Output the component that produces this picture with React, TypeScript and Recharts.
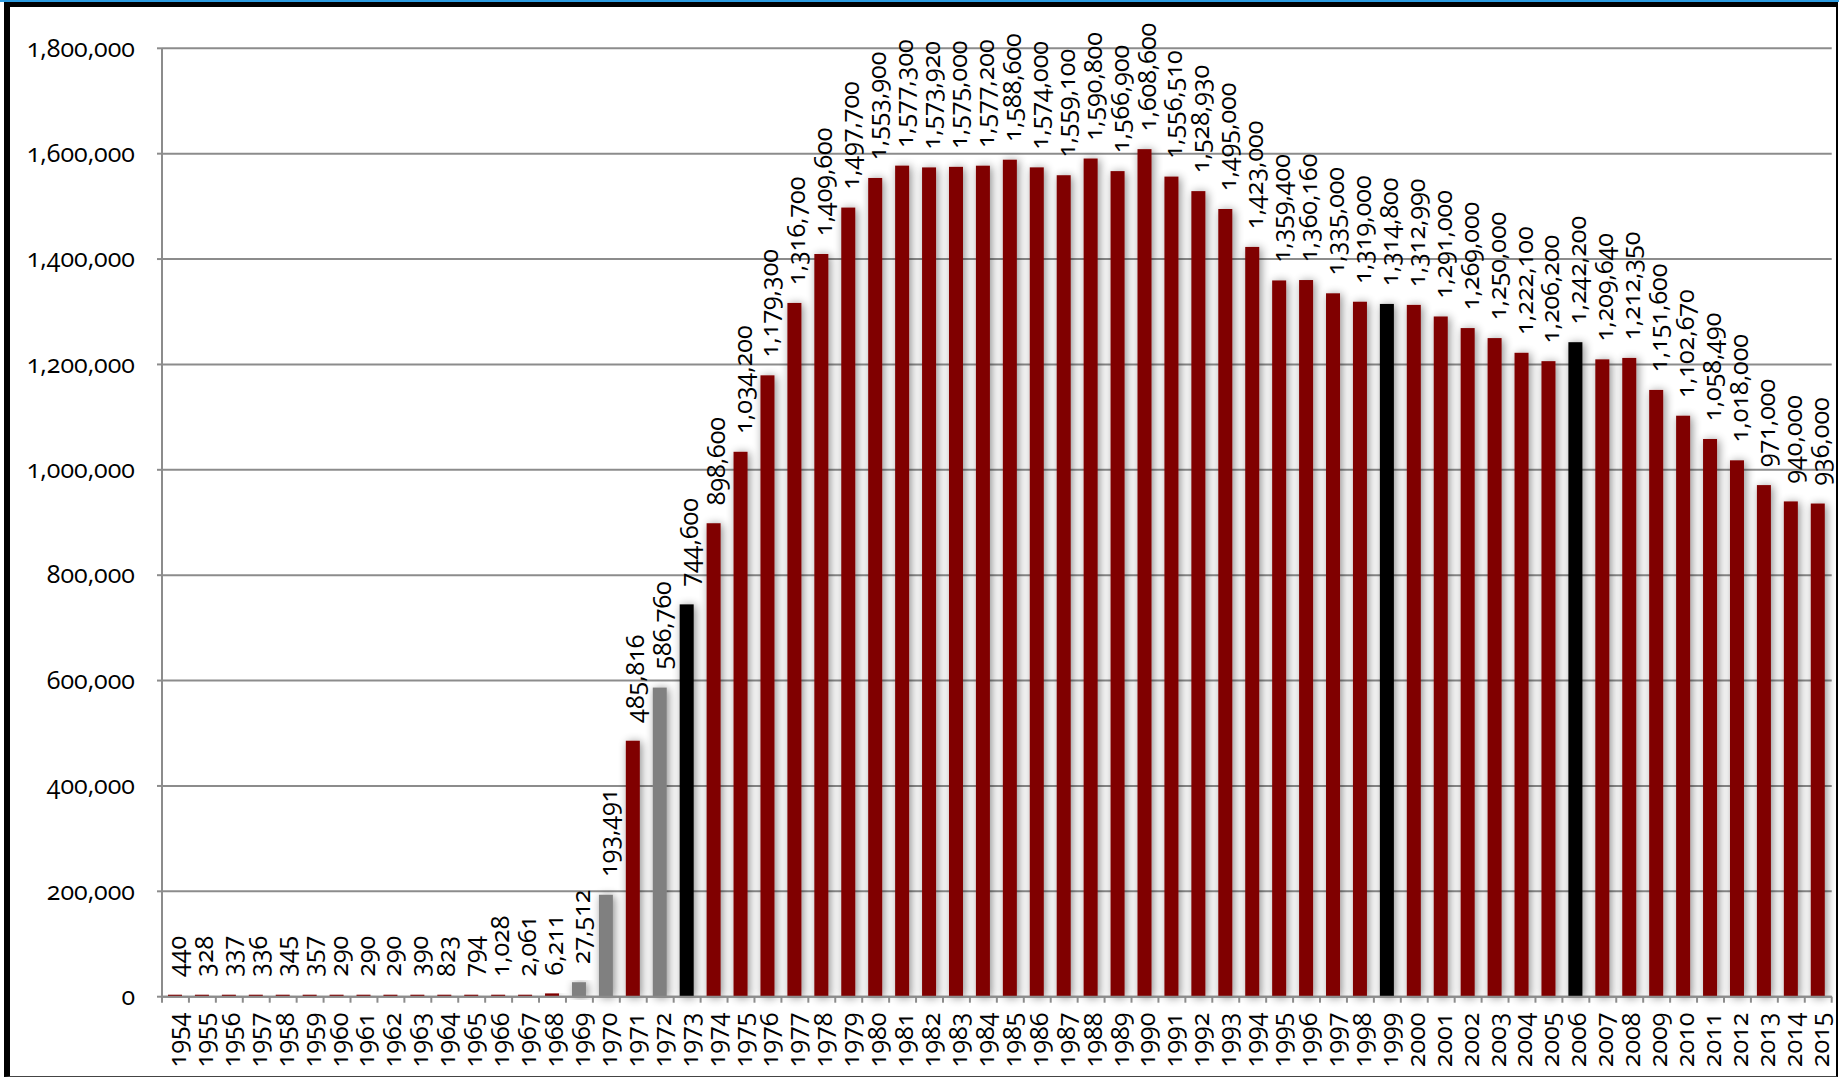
import React from "react";
import { BarChart, Bar, XAxis, YAxis, CartesianGrid, LabelList } from "recharts";

const YEARS: string[] = [
  "1954", "1955", "1956", "1957", "1958", "1959", "1960", "1961", "1962", "1963",
  "1964", "1965", "1966", "1967", "1968", "1969", "1970", "1971", "1972", "1973",
  "1974", "1975", "1976", "1977", "1978", "1979", "1980", "1981", "1982", "1983",
  "1984", "1985", "1986", "1987", "1988", "1989", "1990", "1991", "1992", "1993",
  "1994", "1995", "1996", "1997", "1998", "1999", "2000", "2001", "2002", "2003",
  "2004", "2005", "2006", "2007", "2008", "2009", "2010", "2011", "2012", "2013",
  "2014", "2015",
];

const VALUES: number[] = [
  440, 328, 337, 336, 345, 357, 290, 290, 290, 390,
  823, 794, 1028, 2061, 6211, 27512, 193491, 485816, 586760, 744600,
  898600, 1034200, 1179300, 1316700, 1409600, 1497700, 1553900, 1577300, 1573920, 1575000,
  1577200, 1588600, 1574000, 1559100, 1590800, 1566900, 1608600, 1556510, 1528930, 1495000,
  1423000, 1359400, 1360160, 1335000, 1319000, 1314800, 1312990, 1291000, 1269000, 1250000,
  1222100, 1206200, 1242200, 1209640, 1212350, 1151600, 1102670, 1058490, 1018000, 971000,
  940000, 936000,
];

const GRAY_YEARS: string[] = ["1969", "1970", "1972"];
const BLACK_YEARS: string[] = ["1973", "1999", "2006"];

const Y_TICKS: number[] = [0, 200000, 400000, 600000, 800000, 1000000, 1200000, 1400000, 1600000, 1800000];

const RED = "#800000";
const GRAY = "#808080";
const BLACK = "#000000";
const GRID = "#8c8c8c";
const FONT = "'Open Sans', 'Noto Sans', sans-serif";
const FS = 25;

const W = 1839;
const H = 1078;
const PLOT_LEFT = 162;
const PLOT_RIGHT = 1831.7;
const PLOT_TOP = 48.3;
const PLOT_BOTTOM = 996.7;
const X_AXIS_H = 70;
const BAND = (PLOT_RIGHT - PLOT_LEFT) / YEARS.length;

const data = YEARS.map((year, i) => ({ year, value: VALUES[i] }));

const colorFor = (year: string) =>
  GRAY_YEARS.includes(year) ? GRAY : BLACK_YEARS.includes(year) ? BLACK : RED;

const fmt = (v: number) => Number(v).toLocaleString("en-US");

const TEXT_STYLE: React.CSSProperties = { fontVariantNumeric: "oldstyle-nums" };

const XTick = (props: any) => {
  const { x, y, payload, index } = props;
  const half = BAND / 2;
  return (
    <g>
      <line x1={x - half} x2={x - half} y1={y} y2={y + 6} stroke={GRID} strokeWidth={2} />
      {index === YEARS.length - 1 && (
        <line x1={x + half} x2={x + half} y1={y} y2={y + 6} stroke={GRID} strokeWidth={2} />
      )}
      <text
        transform={`translate(${x + 10.5},${y + 16}) rotate(-90)`}
        textAnchor="end"
        fontSize={FS}
        fontFamily={FONT}
        fill="#000"
        style={TEXT_STYLE}
      >
        {payload.value}
      </text>
    </g>
  );
};

const YTick = (props: any) => {
  const { x, y, payload } = props;
  return (
    <text
      x={x}
      y={y}
      dy="0.33em"
      textAnchor="end"
      fontSize={FS}
      fontFamily={FONT}
      fill="#000"
      style={TEXT_STYLE}
    >
      {fmt(payload.value)}
    </text>
  );
};

const BarShape = (props: any) => {
  const { x, y, width, height, payload } = props;
  if (height == null || width == null) return null;
  return (
    <rect
      x={x}
      y={y}
      width={width}
      height={Math.max(height, 0)}
      fill={colorFor(payload?.year)}
      filter="url(#barShadow)"
    />
  );
};

const ValueLabel = (props: any) => {
  const { x, y, width, value } = props;
  const cx = Number(x) + Number(width) / 2;
  return (
    <text
      transform={`translate(${cx + 11},${Number(y) - 18}) rotate(-90)`}
      textAnchor="start"
      fontSize={FS}
      fontFamily={FONT}
      fill="#000"
      style={TEXT_STYLE}
    >
      {fmt(value)}
    </text>
  );
};

export default function App() {
  return (
    <div style={{ position: "relative", width: W, height: H, background: "#fff", overflow: "hidden" }}>
      <style>{`html,body{margin:0;padding:0;background:#fff;}`}</style>
      <div style={{ position: "absolute", left: 0, top: 0 }}>
        <BarChart
          width={W}
          height={H}
          data={data}
          margin={{ top: PLOT_TOP, right: W - PLOT_RIGHT, bottom: H - PLOT_BOTTOM - X_AXIS_H, left: 0 }}
          barSize={14}
        >
          <defs>
            <filter id="barShadow" x="-100%" y="-20%" width="300%" height="140%">
              <feGaussianBlur in="SourceAlpha" stdDeviation="5" />
              <feOffset dx="2" dy="1" result="off" />
              <feComponentTransfer>
                <feFuncA type="linear" slope="0.45" />
              </feComponentTransfer>
              <feMerge>
                <feMergeNode />
                <feMergeNode in="SourceGraphic" />
              </feMerge>
            </filter>
          </defs>
          <CartesianGrid vertical={false} stroke={GRID} strokeWidth={2} />
          <XAxis
            dataKey="year"
            interval={0}
            height={X_AXIS_H}
            tickSize={0}
            tickMargin={0}
            tickLine={false}
            axisLine={{ stroke: GRID, strokeWidth: 2 }}
            tick={<XTick />}
          />
          <YAxis
            width={PLOT_LEFT}
            domain={[0, 1800000]}
            ticks={Y_TICKS}
            interval={0}
            tickSize={5}
            tickMargin={22}
            tickLine={{ stroke: GRID, strokeWidth: 2 }}
            axisLine={{ stroke: GRID, strokeWidth: 2 }}
            tick={<YTick />}
          />
          <Bar dataKey="value" isAnimationActive={false} minPointSize={2} shape={<BarShape />}>
            <LabelList dataKey="value" content={<ValueLabel />} />
          </Bar>
        </BarChart>
      </div>
      <div style={{ position: "absolute", left: 0, top: 0, width: W, height: 2, background: "#2b9be0" }} />
      <div
        style={{
          position: "absolute",
          left: 4,
          top: 2,
          width: W - 4 - 1,
          height: H - 2 - 1,
          boxSizing: "border-box",
          borderLeft: "6px solid #000",
          borderTop: "5px solid #000",
          borderRight: "2px solid #000",
          borderBottom: "1px solid #444",
          pointerEvents: "none",
        }}
      />
    </div>
  );
}
